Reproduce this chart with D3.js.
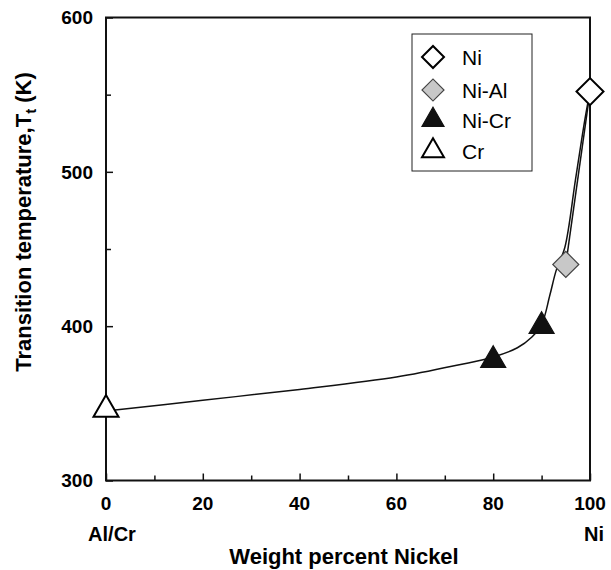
<!DOCTYPE html>
<html>
<head>
<meta charset="utf-8">
<script src="https://cdnjs.cloudflare.com/ajax/libs/d3/7.8.5/d3.min.js"></script>
<style>
	body { margin: 0; background: #ffffff; }
	svg { display: block; }
</style>
</head>
<body>
<svg id="chart" width="611" height="570"></svg>
<script>

// measured points (weight percent nickel, transition temperature K)
var aNi = [[100, 552]];
var aNiAl = [[95, 440]];
var aNiCr = [[80, 378], [90, 400]];
var aCr = [[0, 346]];

// fitted trend line
var aCurveX = [0, 20, 40, 60, 73, 80, 85, 88, 90, 91.7, 93, 94.8, 97, 99, 100];
var aCurveT = [345, 352, 359, 367, 375, 380, 386, 393, 401, 420, 436, 451, 495, 535, 552];

// second (straight) branch from Ni-Al up to Ni
var aBranch = [[95, 440], [100, 552]];

var aTicksX = [0, 20, 40, 60, 80, 100];
var aMinorX = [10, 30, 50, 70, 90];
var aTicksY = [300, 400, 500, 600];
var aMinorY = [350, 450, 550];

var aSeriesNames = ['Ni', 'Ni-Al', 'Ni-Cr', 'Cr'];

function D3_TransitionChart(vSelector)
{
	var sSvg = d3.select(vSelector);
	if (sSvg.empty() == true)
	{
		console.log('D3_TransitionChart: Could not identify element: ' + vSelector);
		return;
	}

	var nLeft = 106;
	var nRight = 590;
	var nTop = 17.5;
	var nBottom = 480.5;
	var strFont = '"Liberation Sans", Arial, Helvetica, sans-serif';

	var aStyles = [
		{ 'shape': 'diamond', 'fill': '#ffffff', 'stroke': '#000000' },
		{ 'shape': 'diamond', 'fill': '#c8c8c8', 'stroke': '#444444' },
		{ 'shape': 'triangle', 'fill': '#111111', 'stroke': '#111111' },
		{ 'shape': 'triangle', 'fill': '#ffffff', 'stroke': '#000000' }
	];

	var scaleX = d3.scaleLinear().domain([0, 100]).range([nLeft, nRight]);
	var scaleY = d3.scaleLinear().domain([300, 600]).range([nBottom, nTop]);

	// frame
	sSvg.append('rect')
		.attr('x', nLeft)
		.attr('y', nTop)
		.attr('width', nRight - nLeft)
		.attr('height', nBottom - nTop)
		.attr('fill', 'none')
		.attr('stroke', '#111')
		.attr('stroke-width', 2);

	// axes with inward ticks
	var axisX = d3.axisBottom(scaleX).tickValues(aTicksX).tickSize(-7).tickFormat('');
	var axisXMinor = d3.axisBottom(scaleX).tickValues(aMinorX).tickSize(-5).tickFormat('');
	var axisY = d3.axisLeft(scaleY).tickValues(aTicksY).tickSize(-7).tickFormat('');
	var axisYMinor = d3.axisLeft(scaleY).tickValues(aMinorY).tickSize(-5).tickFormat('');

	[[axisX, 'translate(0,' + nBottom + ')'], [axisXMinor, 'translate(0,' + nBottom + ')'],
	 [axisY, 'translate(' + nLeft + ',0)'], [axisYMinor, 'translate(' + nLeft + ',0)']].forEach(function(a)
	{
		var sAxis = sSvg.append('g').attr('transform', a[1]).call(a[0]);
		sAxis.select('.domain').remove();
		sAxis.selectAll('line').attr('stroke', '#111').attr('stroke-width', 1.5);
	});

	// tick labels
	sSvg.append('g').selectAll('text')
		.data(aTicksX)
		.enter()
			.append('text')
				.attr('x', function(d) { return scaleX(d); })
				.attr('y', 510)
				.attr('text-anchor', 'middle')
				.style('font', 'bold 19px ' + strFont)
				.text(function(d) { return d; });

	sSvg.append('g').selectAll('text')
		.data(aTicksY)
		.enter()
			.append('text')
				.attr('x', 93)
				.attr('y', function(d) { return scaleY(d); })
				.attr('dy', '0.36em')
				.attr('text-anchor', 'end')
				.style('font', 'bold 19px ' + strFont)
				.text(function(d) { return d; });

	sSvg.append('text')
		.attr('x', 112)
		.attr('y', 541)
		.attr('text-anchor', 'middle')
		.style('font', 'bold 20px ' + strFont)
		.text('Al/Cr');

	sSvg.append('text')
		.attr('x', 604)
		.attr('y', 541)
		.attr('text-anchor', 'end')
		.style('font', 'bold 20px ' + strFont)
		.text('Ni');

	sSvg.append('text')
		.attr('x', 344)
		.attr('y', 564)
		.attr('text-anchor', 'middle')
		.style('font', 'bold 22px ' + strFont)
		.text('Weight percent Nickel');

	var sTitleY = sSvg.append('text')
		.attr('transform', 'translate(31,222) rotate(-90)')
		.attr('text-anchor', 'middle')
		.style('font', 'bold 22px ' + strFont);
	sTitleY.append('tspan').text('Transition temperature,T');
	sTitleY.append('tspan').attr('dy', 5).style('font-size', '15px').text('t');
	sTitleY.append('tspan').attr('dy', -5).text(' (K)');

	// lines
	var aCurve = aCurveX.map(function(x, i) { return [x, aCurveT[i]]; });
	var lineGen = d3.line()
		.x(function(d) { return scaleX(d[0]); })
		.y(function(d) { return scaleY(d[1]); });

	sSvg.append('path')
		.datum(aCurve)
		.attr('d', lineGen.curve(d3.curveCatmullRom.alpha(0.5)))
		.attr('fill', 'none')
		.attr('stroke', '#111')
		.attr('stroke-width', 1.5);

	sSvg.append('path')
		.datum(aBranch)
		.attr('d', d3.line()
			.x(function(d) { return scaleX(d[0]); })
			.y(function(d) { return scaleY(d[1]); })(aBranch))
		.attr('fill', 'none')
		.attr('stroke', '#111')
		.attr('stroke-width', 1.5);

	// markers
	function SymbolPath(strShape, nHalf)
	{
		if (strShape == 'diamond')
		{
			return d3.symbol().type(d3.symbolSquare).size(2 * nHalf * nHalf)();
		}
		var nSide = nHalf * 2;
		return d3.symbol().type(d3.symbolTriangle).size(Math.sqrt(3) / 4 * nSide * nSide)();
	}

	function DrawPoints(aPoints, oStyle, nHalf)
	{
		sSvg.append('g').selectAll('path')
			.data(aPoints)
			.enter()
				.append('path')
					.attr('d', SymbolPath(oStyle.shape, nHalf))
					.attr('transform', function(d)
					{
						var strRot = oStyle.shape == 'diamond' ? ' rotate(45)' : '';
						return 'translate(' + scaleX(d[0]) + ',' + scaleY(d[1]) + ')' + strRot;
					})
					.attr('fill', oStyle.fill)
					.attr('stroke', oStyle.stroke)
					.attr('stroke-width', oStyle.fill == '#ffffff' ? 2 : 1.2);
	}

	DrawPoints(aNiCr, aStyles[2], 12.5);
	DrawPoints(aCr, aStyles[3], 12.5);
	DrawPoints(aNiAl, aStyles[1], 13);
	DrawPoints(aNi, aStyles[0], 13.5);

	// legend
	var sLegend = sSvg.append('g');
	sLegend.append('rect')
		.attr('x', 412)
		.attr('y', 34)
		.attr('width', 120)
		.attr('height', 137)
		.attr('fill', '#ffffff')
		.attr('stroke', '#222')
		.attr('stroke-width', 1);

	var aLegendY = [57, 90, 120, 151];
	aSeriesNames.forEach(function(strName, i)
	{
		var oStyle = aStyles[i];
		var strRot = oStyle.shape == 'diamond' ? ' rotate(45)' : '';
		sLegend.append('path')
			.attr('d', SymbolPath(oStyle.shape, 11))
			.attr('transform', 'translate(433,' + aLegendY[i] + ')' + strRot)
			.attr('fill', oStyle.fill)
			.attr('stroke', oStyle.stroke)
			.attr('stroke-width', oStyle.fill == '#ffffff' ? 2 : 1.2);
		sLegend.append('text')
			.attr('x', 462)
			.attr('y', aLegendY[i])
			.attr('dy', '0.36em')
			.style('font', '21px ' + strFont)
			.text(strName);
	});
}

D3_TransitionChart('#chart');
</script>
</body>
</html>
